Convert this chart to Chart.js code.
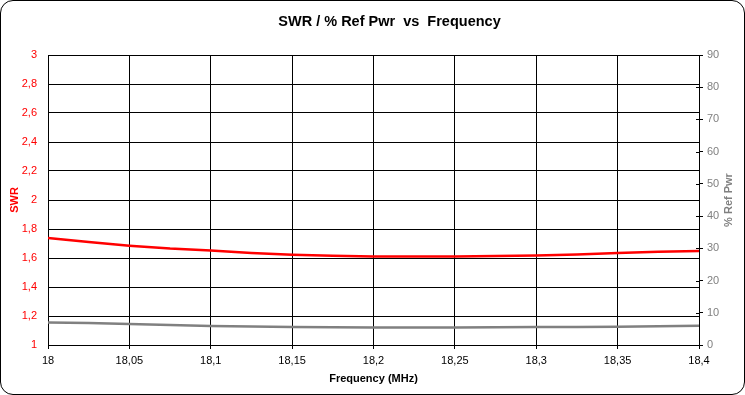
<!DOCTYPE html>
<html>
<head>
<meta charset="utf-8">
<script src="https://cdn.jsdelivr.net/npm/chart.js@4/dist/chart.umd.min.js"></script>
<style>
  html, body { margin: 0; padding: 0; background: #fff; }
  #wrap { position: relative; width: 745px; height: 395px; }
  #c { position: absolute; left: 0; top: 0; }
  #frame { position: absolute; left: 0; top: 0; width: 745px; height: 395px; box-sizing: border-box;
           border: 1px solid #000; border-radius: 13px; pointer-events: none; }
</style>
</head>
<body>
<div id="wrap">
  <canvas id="c" width="745" height="395"></canvas>
  <div id="frame"></div>
</div>
<script>
// Data
const freq   = [18.000, 18.025, 18.050, 18.075, 18.100, 18.125, 18.150, 18.175, 18.200, 18.225, 18.250, 18.275, 18.300, 18.325, 18.350, 18.375, 18.400];
const swr    = [1.738, 1.710, 1.685, 1.665, 1.652, 1.635, 1.623, 1.615, 1.611, 1.610, 1.610, 1.613, 1.618, 1.624, 1.634, 1.643, 1.648];
const refPwr = [7.0, 6.8, 6.5, 6.2, 5.9, 5.75, 5.6, 5.5, 5.45, 5.42, 5.42, 5.5, 5.55, 5.6, 5.7, 5.85, 5.95];

const titleText = 'SWR / % Ref Pwr  vs  Frequency';
const xTitle = 'Frequency (MHz)';
const yTitle = 'SWR';
const y2Title = '% Ref Pwr';

const FONT = '"Liberation Sans", Arial, sans-serif';
const fmt = v => String(Number(Number(v).toFixed(3))).replace('.', ',');

const textPlugin = {
  id: 'extraText',
  afterDraw(chart) {
    const ctx = chart.ctx;
    const a = chart.chartArea;
    ctx.save();
    // chart title
    ctx.font = 'bold 14.5px ' + FONT;
    ctx.fillStyle = '#000';
    ctx.textAlign = 'center';
    ctx.textBaseline = 'middle';
    ctx.fillText(titleText, 389.5, 22);
    // right axis title
    ctx.translate(729, (a.top + a.bottom) / 2);
    ctx.rotate(-Math.PI / 2);
    ctx.font = 'bold 11px ' + FONT;
    ctx.fillStyle = '#808080';
    ctx.fillText(y2Title, 0, 0);
    ctx.restore();
  }
};

const innerTickPlugin = {
  id: 'innerTicks',
  afterDraw(chart) {
    const ctx = chart.ctx;
    const s = chart.scales.y2;
    ctx.save();
    ctx.strokeStyle = '#000';
    ctx.lineWidth = 1;
    s.ticks.forEach(t => {
      const y = Math.round(s.getPixelForValue(t.value)) + 0.5;
      ctx.beginPath();
      ctx.moveTo(s.left - 3, y);
      ctx.lineTo(s.left, y);
      ctx.stroke();
    });
    ctx.restore();
  }
};

new Chart(document.getElementById('c'), {
  type: 'line',
  data: {
    datasets: [
      {
        label: 'SWR',
        data: freq.map((f, i) => ({ x: f, y: swr[i] })),
        borderColor: '#ff0000',
        borderWidth: 2.5,
        pointRadius: 0,
        tension: 0,
        yAxisID: 'y'
      },
      {
        label: '% Ref Pwr',
        data: freq.map((f, i) => ({ x: f, y: refPwr[i] })),
        borderColor: '#808080',
        borderWidth: 2.5,
        pointRadius: 0,
        tension: 0,
        yAxisID: 'y2'
      }
    ]
  },
  options: {
    responsive: false,
    animation: false,
    layout: { padding: { top: 55, left: 0, right: 0, bottom: 0 } },
    plugins: {
      legend: { display: false },
      tooltip: { enabled: false },
      title: { display: false }
    },
    scales: {
      x: {
        type: 'linear',
        min: 18, max: 18.4,
        afterFit: s => { s.height = 50; },
        ticks: {
          stepSize: 0.05,
          autoSkip: false,
          maxRotation: 0,
          color: '#000',
          padding: 5,
          font: { family: FONT, size: 11 },
          callback: v => fmt(v)
        },
        grid: { color: '#000', lineWidth: 1, tickLength: 4, drawTicks: true },
        border: { color: '#000', width: 1 },
        title: {
          display: true,
          text: xTitle,
          color: '#000',
          font: { family: FONT, size: 11, weight: 'bold' },
          padding: { top: 0, bottom: 9 }
        }
      },
      y: {
        position: 'left',
        min: 1, max: 3,
        afterFit: s => { s.width = 48; },
        ticks: {
          stepSize: 0.2,
          color: '#ff0000',
          padding: 11,
          font: { family: FONT, size: 11 },
          callback: v => fmt(v)
        },
        grid: { color: '#000', lineWidth: 1, drawTicks: false },
        border: { color: '#000', width: 1 },
        title: {
          display: true,
          text: yTitle,
          color: '#ff0000',
          font: { family: FONT, size: 11, weight: 'bold' },
          padding: { top: 8, bottom: 0 }
        }
      },
      y2: {
        position: 'right',
        min: 0, max: 90,
        afterFit: s => { s.width = 46; },
        ticks: {
          stepSize: 10,
          color: '#808080',
          padding: 4,
          font: { family: FONT, size: 11 },
          callback: v => fmt(v)
        },
        grid: { drawOnChartArea: false, color: '#000', tickLength: 4 },
        border: { color: '#000', width: 1 }
      }
    }
  },
  plugins: [textPlugin, innerTickPlugin]
});
</script>
</body>
</html>
